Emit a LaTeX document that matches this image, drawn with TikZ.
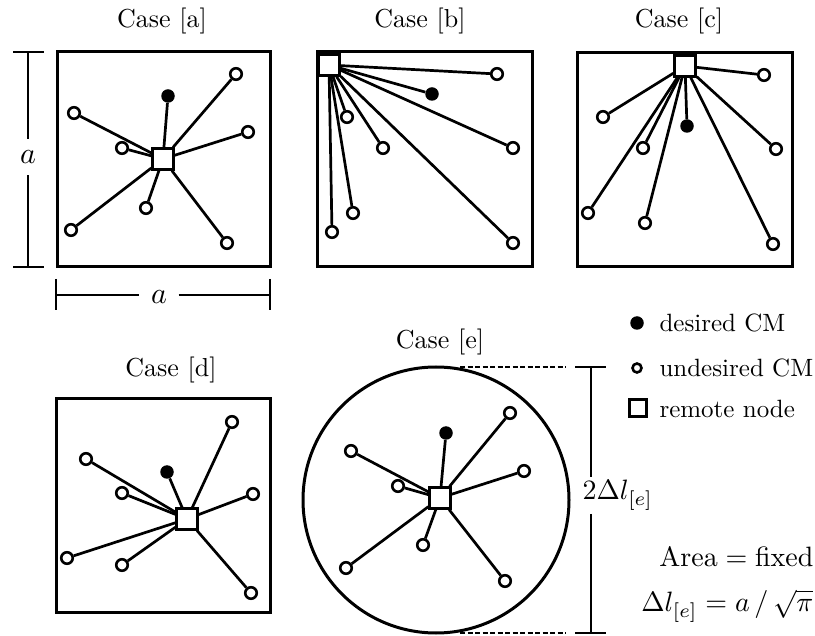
\documentclass[tikz,border=0pt]{standalone}
\usetikzlibrary{calc}
\begin{document}
\begin{tikzpicture}[x=1pt,y=-1pt,
  frame/.style={draw, line width=3pt},
  link/.style={line width=2.7pt},
  dimline/.style={line width=2.7pt},
  hollow/.style={circle, draw, fill=white, line width=2.6pt, minimum size=11.5pt, inner sep=0pt},
  fulldot/.style={circle, fill=black, minimum size=13.5pt, inner sep=0pt},
  remote/.style={rectangle, draw, fill=white, line width=2.4pt, minimum size=21pt, inner sep=0pt},
  title/.style={scale=2.6, anchor=base, inner sep=0pt},
  legtext/.style={scale=2.5, anchor=base west, inner sep=0pt},
  formula/.style={scale=2.8, anchor=base east, inner sep=0pt},
  dimlabel/.style={scale=3.0, inner sep=3.7pt}
]
\useasboundingbox (0,0) rectangle (815,636);

% ---------------- Case [a]
\node[title] (ta) at (162,28) {Case [a]};
\draw[frame] (57,52) rectangle (270,267);
\node[remote] (a0) at (163,159) {};
\node[fulldot] (aF) at (168,96) {};
\node[hollow] (a1) at (236,74) {};
\node[hollow] (a2) at (74,113) {};
\node[hollow] (a3) at (248,132) {};
\node[hollow] (a4) at (122,148) {};
\node[hollow] (a5) at (146,208) {};
\node[hollow] (a6) at (71,230) {};
\node[hollow] (a7) at (227,243) {};
\foreach \i in {F,1,2,3,4,5,6,7} \draw[link] (a0) -- (a\i);

% dimensions a
\node[dimlabel] (av) at (28,157) {$a$};
\coordinate (avT) at (28,52);
\coordinate (avB) at (28,267);
\draw[dimline] (avT) -- (av.north);
\draw[dimline] (av.south) -- (avB);
\draw[dimline] (13,52) -- (44,52);
\draw[dimline] (13,267) -- (44,267);
\node[dimlabel] (ah) at (159,297) {$a$};
\coordinate (ahL) at (56,295);
\coordinate (ahR) at (270,295);
\draw[dimline] (ahL) -- (ah.west |- ahL);
\draw[dimline] (ah.east |- ahR) -- (ahR);
\draw[dimline] (56,279) -- (56,310);
\draw[dimline] (270,279) -- (270,310);

% ---------------- Case [b]
\node[title] (tb) at (420,28) {Case [b]};
\draw[frame] (317,52) rectangle (532,267);
\node[remote] (b0) at (329,65) {};
\node[fulldot] (bF) at (432,94) {};
\node[hollow] (b1) at (497,74) {};
\node[hollow] (b2) at (513,148) {};
\node[hollow] (b3) at (347,117) {};
\node[hollow] (b4) at (383,148) {};
\node[hollow] (b5) at (353,213) {};
\node[hollow] (b6) at (332,232) {};
\node[hollow] (b7) at (513,243) {};
\foreach \i in {F,1,2,3,4,5,6,7} \draw[link] (b0) -- (b\i);

% ---------------- Case [c]
\node[title] (tc) at (679,28) {Case [c]};
\draw[frame] (577,53) rectangle (792,267);
\node[remote] (c0) at (685,66) {};
\node[fulldot] (cF) at (687,126) {};
\node[hollow] (c1) at (764,75) {};
\node[hollow] (c2) at (603,117) {};
\node[hollow] (c3) at (643,148) {};
\node[hollow] (c4) at (776,149) {};
\node[hollow] (c5) at (588,213) {};
\node[hollow] (c6) at (645,223) {};
\node[hollow] (c7) at (773,244) {};
\foreach \i in {F,1,2,3,4,5,6,7} \draw[link] (c0) -- (c\i);

% ---------------- Case [d]
\node[title] (td) at (171,377) {Case [d]};
\draw[frame] (56,399) rectangle (270,612);
\node[remote] (d0) at (187,519) {};
\node[fulldot] (dF) at (167,472) {};
\node[hollow] (d1) at (232,422) {};
\node[hollow] (d2) at (86,459) {};
\node[hollow] (d3) at (122,493) {};
\node[hollow] (d4) at (253,494) {};
\node[hollow] (d5) at (67,558) {};
\node[hollow] (d6) at (122,565) {};
\node[hollow] (d7) at (251,593) {};
\foreach \i in {F,1,2,3,4,5,6,7} \draw[link] (d0) -- (d\i);

% ---------------- Case [e]
\node[title] (te) at (440,349) {Case [e]};
\draw[frame] (436,500) circle (133);
\node[remote] (e0) at (440,498) {};
\node[fulldot] (eF) at (446,433) {};
\node[hollow] (e1) at (510,413) {};
\node[hollow] (e2) at (351,451) {};
\node[hollow] (e3) at (524,471) {};
\node[hollow] (e4) at (398,486) {};
\node[hollow] (e5) at (423,545) {};
\node[hollow] (e6) at (346,568) {};
\node[hollow] (e7) at (505,581) {};
\foreach \i in {F,1,2,3,4,5,6,7} \draw[link] (e0) -- (e\i);

% dimension 2 Delta l
\coordinate (eT) at (591,367);
\coordinate (eB) at (591,633);
\node[scale=2.8, anchor=base west, inner xsep=0pt, inner ysep=1.2pt] (el) at (582,500) {$2\Delta l_{[e]}$};
\draw[dimline] (eT) -- (eT |- el.north);
\draw[dimline] (eB |- el.south) -- (eB);
\draw[dimline] (575,367) -- (606,367);
\draw[dimline] (575,633) -- (606,633);
\draw[line width=2pt, dash pattern=on 5pt off 2.5pt] (460,367) -- (566,367);
\draw[line width=2pt, dash pattern=on 5pt off 2.5pt] (460,633) -- (566,633);

% ---------------- Legend
\node[fulldot] (lg1) at (637,323) {};
\node[hollow, minimum size=9pt, line width=2.6pt] (lg2) at (637,368) {};
\node[remote, minimum size=17pt, line width=2.8pt] (lg3) at (638,408) {};
\node[legtext] (lt1) at (659,332) {desired CM};
\node[legtext] (lt2) at (659,377) {undesired CM};
\node[legtext] (lt3) at (659,418) {remote node};

% ---------------- Formulas
\node[formula] (f1) at (814,566) {$\mathrm{Area} = \mathrm{fixed}$};
\node[formula] (f2) at (814,612) {$\Delta l_{[e]} = a\,/\,\sqrt{\pi}$};
\end{tikzpicture}
\end{document}
